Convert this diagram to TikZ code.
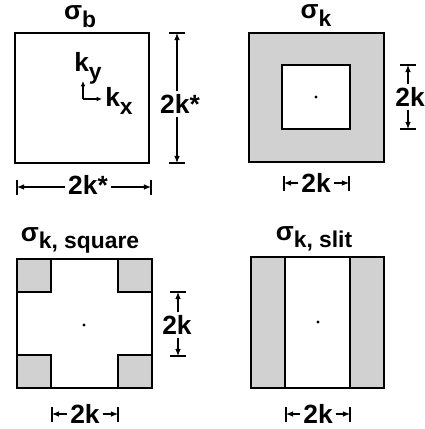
\documentclass[tikz,border=0pt]{standalone}
\usepackage{fontspec}
\setmainfont{Liberation Sans}
\usetikzlibrary{arrows.meta,positioning}
\newcommand{\subs}[1]{\raisebox{-0.55ex}{\fontsize{13}{13}\selectfont #1}}

\begin{document}
\begin{tikzpicture}[x=0.02cm,y=-0.02cm,
    box/.style={line width=1.1pt},
    zone/.style={fill=black!18, line width=1.1pt},
    dim/.style={line width=0.6pt,-{Latex[length=4pt,width=3.2pt]}},
    bar/.style={line width=0.6pt},
    lbl/.style={font=\fontsize{15}{17}\selectfont\bfseries, inner sep=1.5pt},
    ttl/.style={font=\fontsize{15}{17}\selectfont\bfseries, inner sep=0pt, anchor=base}]

    \useasboundingbox (0,0) rectangle (425,429);

    % sigma_b
    \node[ttl] (tb) at (80,20) {σ\subs{b}};
    \draw[box] (15,33) rectangle (149,163);
    \coordinate (o) at (83,99);
    \coordinate (oy) at (83,81);
    \coordinate (ox) at (102,99);
    \draw[dim, -{Latex[length=3pt,width=2.6pt]}] (o) -- (oy);
    \draw[dim, -{Latex[length=3pt,width=2.6pt]}] (o) -- (ox);
    \node[lbl] (ky) at (88,68) {k\subs{y}};
    \node[lbl] (kx) at (119,101) {k\subs{x}};
    % vertical 2k*
    \coordinate (bt) at (177,33);
    \coordinate (bb) at (177,163);
    \draw[bar] (169,33) -- (185,33) (169,163) -- (185,163);
    \node[lbl] (dbv) at (180,104) {2k*};
    \draw[dim] (dbv.north -| bt) -- (bt);
    \draw[dim] (dbv.south -| bb) -- (bb);
    % horizontal 2k*
    \coordinate (bl) at (17,187);
    \coordinate (br) at (151,187);
    \draw[bar] (17,180) -- (17,195) (151,180) -- (151,195);
    \node[lbl] (dbh) at (88,185) {2k*};
    \draw[dim] (dbh.west |- bl) -- (bl);
    \draw[dim] (dbh.east |- br) -- (br);

    % sigma_k
    \node[ttl] (tk) at (316,19) {σ\subs{k}};
    \filldraw[zone] (249,33) rectangle (384,162);
    \filldraw[box, fill=white] (282,65) rectangle (350,129);
    \fill (316,97) circle (1.6);
    \coordinate (kt) at (408,65);
    \coordinate (kb) at (408,129);
    \draw[bar] (400,65) -- (416,65) (400,129) -- (416,129);
    \node[lbl] (dkv) at (410,97) {2k};
    \draw[dim] (dkv.north -| kt) -- (kt);
    \draw[dim] (dkv.south -| kb) -- (kb);
    \coordinate (kl) at (284,183);
    \coordinate (kr) at (349,183);
    \draw[bar] (284,176) -- (284,191) (349,176) -- (349,191);
    \node[lbl] (dkh) at (316,183) {2k};
    \draw[dim] (dkh.west |- kl) -- (kl);
    \draw[dim] (dkh.east |- kr) -- (kr);

    % sigma_k, square
    \node[ttl] (tq) at (80,241) {σ\subs{k, square}};
    \foreach \x/\y in {17/259, 118/259, 17/355, 118/355}
        \filldraw[zone] (\x,\y) rectangle (\x+34,\y+33);
    \draw[box] (17,259) rectangle (152,388);
    \fill (84,325) circle (1.6);
    \coordinate (qt) at (178,292);
    \coordinate (qb) at (178,356);
    \draw[bar] (170,292) -- (186,292) (170,356) -- (186,356);
    \node[lbl] (dqv) at (177,325) {2k};
    \draw[dim] (dqv.north -| qt) -- (qt);
    \draw[dim] (dqv.south -| qb) -- (qb);
    \coordinate (ql) at (52,414);
    \coordinate (qr) at (118,414);
    \draw[bar] (52,407) -- (52,422) (118,407) -- (118,422);
    \node[lbl] (dqh) at (85,414) {2k};
    \draw[dim] (dqh.west |- ql) -- (ql);
    \draw[dim] (dqh.east |- qr) -- (qr);

    % sigma_k, slit
    \node[ttl] (ts) at (314,240) {σ\subs{k, slit}};
    \filldraw[zone] (251,257) rectangle (285,388);
    \filldraw[zone] (350,257) rectangle (384,388);
    \draw[box] (251,257) rectangle (384,388);
    \fill (318,322) circle (1.6);
    \coordinate (sl) at (286,414);
    \coordinate (sr) at (350,414);
    \draw[bar] (286,407) -- (286,422) (350,407) -- (350,422);
    \node[lbl] (dsh) at (318,414) {2k};
    \draw[dim] (dsh.west |- sl) -- (sl);
    \draw[dim] (dsh.east |- sr) -- (sr);
\end{tikzpicture}
\end{document}
